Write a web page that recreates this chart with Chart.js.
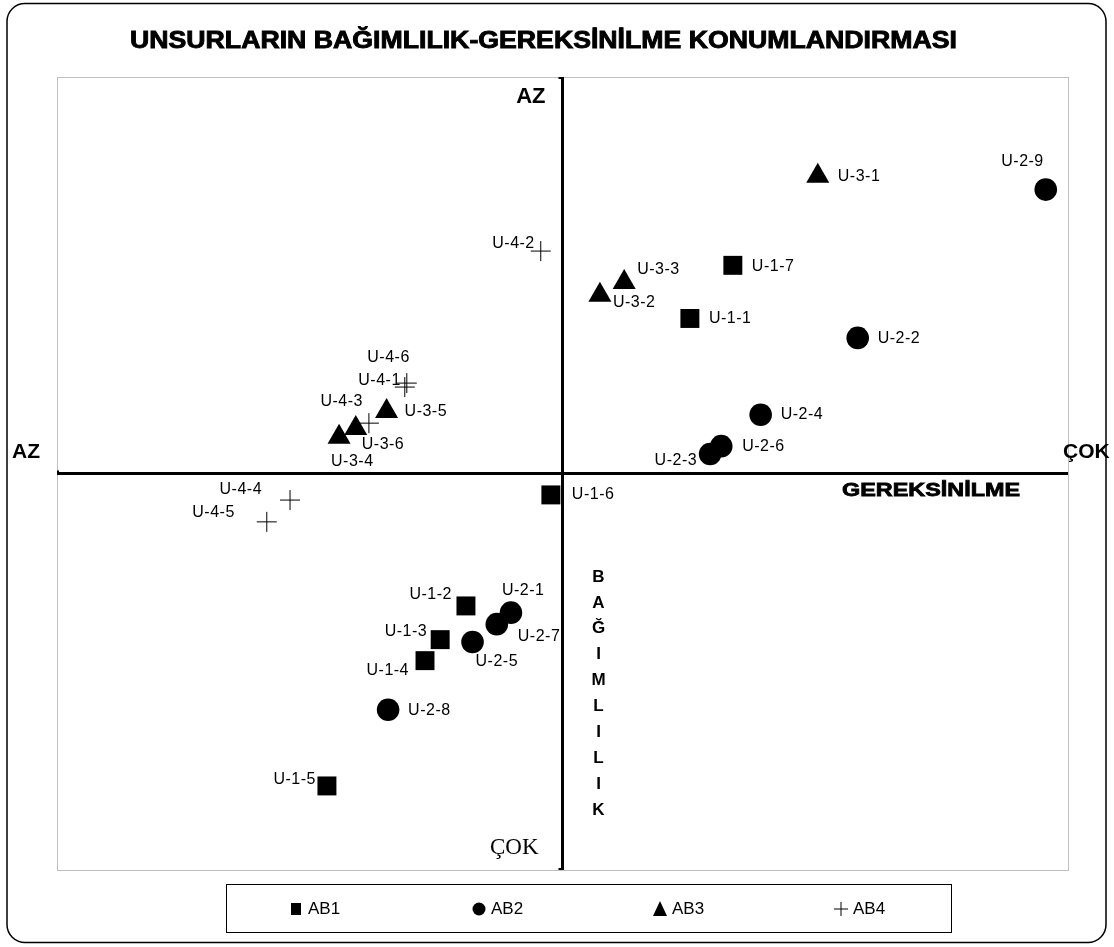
<!DOCTYPE html>
<html>
<head>
<meta charset="utf-8">
<script src="https://cdn.jsdelivr.net/npm/chart.js@4/dist/chart.umd.min.js"></script>
<style>
  html, body { margin: 0; padding: 0; background: #fff; }
  #wrap { width: 1114px; height: 947px; position: relative; }
</style>
</head>
<body>
<div id="wrap"><canvas id="posChart"></canvas></div>
<script>
// values; both axes run -1 .. 1 with the cross at 0
const ab1Names = ["U-1-1", "U-1-2", "U-1-3", "U-1-4", "U-1-5", "U-1-6", "U-1-7"];
const ab1X = [0.252, -0.191, -0.242, -0.272, -0.466, -0.023, 0.337];
const ab1Y = [0.391, -0.334, -0.419, -0.472, -0.788, -0.054, 0.525];

const ab2Names = ["U-2-1", "U-2-2", "U-2-3", "U-2-4", "U-2-5", "U-2-6", "U-2-7", "U-2-8", "U-2-9"];
const ab2X = [-0.102, 0.584, 0.292, 0.392, -0.178, 0.314, -0.130, -0.345, 0.956];
const ab2Y = [-0.351, 0.342, 0.049, 0.148, -0.425, 0.069, -0.380, -0.596, 0.716];

const ab3Names = ["U-3-1", "U-3-2", "U-3-3", "U-3-4", "U-3-5", "U-3-6"];
const ab3X = [0.505, 0.074, 0.122, -0.442, -0.348, -0.409];
const ab3Y = [0.750, 0.450, 0.482, 0.092, 0.157, 0.114];

const ab4Names = ["U-4-1", "U-4-2", "U-4-3", "U-4-4", "U-4-5", "U-4-6"];
const ab4X = [-0.312, -0.043, -0.383, -0.539, -0.585, -0.308];
const ab4Y = [0.218, 0.561, 0.127, -0.067, -0.122, 0.228];

const seriesNames = ["AB1", "AB2", "AB3", "AB4"];
const titleText = "UNSURLARIN BAĞIMLILIK-GEREKSİNİLME KONUMLANDIRMASI";
const xAxisName = "GEREKSİNİLME";
const yAxisName = "BAĞIMLILIK";

// where each point label sits relative to its marker: [dx, dy, align]
const labelAt = {
  "U-1-1": [19, 0, "left"], "U-1-2": [-14, -11, "right"], "U-1-3": [-13, -8, "right"],
  "U-1-4": [-16, 10, "right"], "U-1-5": [-11, -6, "right"], "U-1-6": [21, 0, "left"],
  "U-1-7": [19, 1, "left"],
  "U-2-1": [-9, -22, "left"], "U-2-2": [20, 1, "left"], "U-2-3": [-13, 7, "right"],
  "U-2-4": [20, 0, "left"], "U-2-5": [3, 20, "left"], "U-2-6": [21, 0, "left"],
  "U-2-7": [21, 12, "left"], "U-2-8": [20, 1, "left"], "U-2-9": [-2, -28, "right"],
  "U-3-1": [20, 0, "left"], "U-3-2": [13, 8, "left"], "U-3-3": [13, -13, "left"],
  "U-3-4": [-8, 25, "left"], "U-3-5": [18, 0, "left"], "U-3-6": [6, 16, "left"],
  "U-4-1": [-4, -6, "right"], "U-4-2": [-6, -7, "right"], "U-4-3": [-6, -22, "right"],
  "U-4-4": [-28, -10, "right"], "U-4-5": [-32, -9, "right"], "U-4-6": [3, -26, "right"]
};

function toPoints(names, xs, ys) {
  return names.map((n, i) => ({ x: xs[i], y: ys[i], name: n }));
}

const FONT = "'Liberation Sans', Arial, sans-serif";

// heavy text stretched to a given width (the original uses a wide black face)
function wideText(ctx, text, x, y, width, align) {
  const w = ctx.measureText(text).width;
  const k = width / w;
  ctx.save();
  ctx.translate(x, y);
  ctx.scale(k, 1);
  ctx.textAlign = align;
  ctx.lineWidth = 1 / k;
  ctx.fillText(text, 0, 0);
  ctx.strokeText(text, 0, 0);
  ctx.restore();
}

function legendMark(ctx, style, x, y) {
  ctx.save();
  ctx.fillStyle = "#000";
  ctx.strokeStyle = "#000";
  ctx.lineWidth = 1;
  ctx.beginPath();
  if (style === "rect") {
    ctx.fillRect(x - 5, y - 6, 10, 12);
  } else if (style === "circle") {
    ctx.arc(x, y, 6.5, 0, Math.PI * 2);
    ctx.fill();
  } else if (style === "triangle") {
    ctx.moveTo(x, y - 8);
    ctx.lineTo(x + 7, y + 7);
    ctx.lineTo(x - 7, y + 7);
    ctx.closePath();
    ctx.fill();
  } else {
    ctx.moveTo(x - 7, y); ctx.lineTo(x + 7, y);
    ctx.moveTo(x, y - 7); ctx.lineTo(x, y + 7);
    ctx.stroke();
  }
  ctx.restore();
}

const framePlugin = {
  id: "frame",
  beforeDatasetsDraw(chart) {
    const ctx = chart.ctx;
    const a = chart.chartArea;
    const xs = chart.scales.x, ys = chart.scales.y;
    const cx = xs.getPixelForValue(0);
    const cy = ys.getPixelForValue(0);

    ctx.save();
    // plot area border
    ctx.strokeStyle = "#c0c0c0";
    ctx.lineWidth = 1;
    ctx.strokeRect(a.left + 0.5, a.top + 0.5, a.right - a.left, a.bottom - a.top);

    // axis cross
    ctx.strokeStyle = "#000";
    ctx.lineWidth = 3;
    ctx.beginPath();
    ctx.moveTo(cx, a.top);
    ctx.lineTo(cx, a.bottom);
    ctx.moveTo(a.left, cy);
    ctx.lineTo(a.right, cy);
    ctx.stroke();
    ctx.lineWidth = 2;
    ctx.beginPath();
    ctx.moveTo(cx - 4, a.top + 1); ctx.lineTo(cx, a.top + 1);
    ctx.moveTo(cx - 4, a.bottom - 1); ctx.lineTo(cx, a.bottom - 1);
    ctx.moveTo(a.left + 1, cy - 3); ctx.lineTo(a.left + 1, cy);
    ctx.stroke();

    // axis end labels
    ctx.fillStyle = "#000";
    ctx.textBaseline = "middle";
    ctx.font = "bold 21px " + FONT;
    ctx.textAlign = "left";
    ctx.fillText("AZ", 12, cy - 21);
    ctx.fillText("ÇOK", a.right - 5, cy - 21);
    ctx.font = "bold 22px " + FONT;
    ctx.textAlign = "right";
    ctx.fillText("AZ", cx - 17, a.top + 20);
    ctx.font = "23px 'Liberation Serif', 'Times New Roman', serif";
    ctx.fillText("ÇOK", cx - 24, a.bottom - 22);

    // axis names
    ctx.font = "bold 19px " + FONT;
    wideText(ctx, xAxisName, 842, cy + 17, 178, "left");
    ctx.font = "bold 17px " + FONT;
    ctx.textAlign = "center";
    const letters = Array.from(yAxisName);
    const top = 577, bottom = 810;
    letters.forEach((ch, i) => {
      const y = top + (bottom - top) * i / (letters.length - 1);
      ctx.fillText(ch, cx + 36, y);
    });
    ctx.restore();
  },
  afterDatasetsDraw(chart) {
    const ctx = chart.ctx;
    ctx.save();
    ctx.fillStyle = "#000";
    ctx.font = "16px " + FONT;
    ctx.textBaseline = "middle";
    if ("letterSpacing" in ctx) ctx.letterSpacing = "0.5px";
    chart.data.datasets.forEach((ds, di) => {
      const meta = chart.getDatasetMeta(di);
      meta.data.forEach((el, i) => {
        const name = ds.data[i].name;
        const pos = labelAt[name] || [18, 0, "left"];
        ctx.textAlign = pos[2];
        ctx.fillText(name, el.x + pos[0], el.y + pos[1]);
      });
    });
    ctx.restore();
  },
  afterDraw(chart) {
    const ctx = chart.ctx;
    ctx.save();
    // outer rounded frame
    ctx.strokeStyle = "#000";
    ctx.lineWidth = 1.5;
    ctx.beginPath();
    if (ctx.roundRect) ctx.roundRect(7, 3.5, 1099, 939, 18);
    else ctx.rect(7, 3.5, 1099, 939);
    ctx.stroke();

    // title
    ctx.fillStyle = "#000";
    ctx.strokeStyle = "#000";
    ctx.font = "bold 23px " + FONT;
    ctx.textBaseline = "middle";
    wideText(ctx, titleText, 543.5, 42, 827, "center");

    // legend
    ctx.lineWidth = 1;
    ctx.strokeRect(226.5, 884.5, 725, 48);
    const marks = ["rect", "circle", "triangle", "cross"];
    const markX = [296, 479, 660, 841];
    ctx.font = "17px " + FONT;
    ctx.textAlign = "left";
    ctx.textBaseline = "middle";
    seriesNames.forEach((s, i) => {
      legendMark(ctx, marks[i], markX[i], 909);
      ctx.fillText(s, markX[i] + 12, 909);
    });
    ctx.restore();
  }
};

const ctx = document.getElementById("posChart").getContext("2d");
new Chart(ctx, {
  type: "scatter",
  data: {
    datasets: [
      { label: seriesNames[0], data: toPoints(ab1Names, ab1X, ab1Y), pointStyle: "rect", pointRadius: 13.4, backgroundColor: "#000", borderColor: "#000", borderWidth: 0 },
      { label: seriesNames[1], data: toPoints(ab2Names, ab2X, ab2Y), pointStyle: "circle", pointRadius: 11.3, backgroundColor: "#000", borderColor: "#000", borderWidth: 0 },
      { label: seriesNames[2], data: toPoints(ab3Names, ab3X, ab3Y), pointStyle: "triangle", pointRadius: 13.3, backgroundColor: "#000", borderColor: "#000", borderWidth: 0 },
      { label: seriesNames[3], data: toPoints(ab4Names, ab4X, ab4Y), pointStyle: "cross", pointRadius: 10, backgroundColor: "#000", borderColor: "#000", borderWidth: 1 }
    ]
  },
  options: {
    responsive: true,
    maintainAspectRatio: false,
    animation: false,
    layout: { padding: { left: 57, top: 77, right: 46, bottom: 77 } },
    scales: {
      x: { type: "linear", min: -1, max: 1, display: false },
      y: { type: "linear", min: -1, max: 1, display: false }
    },
    plugins: {
      legend: { display: false },
      tooltip: { enabled: false }
    }
  },
  plugins: [framePlugin]
});
</script>
</body>
</html>
